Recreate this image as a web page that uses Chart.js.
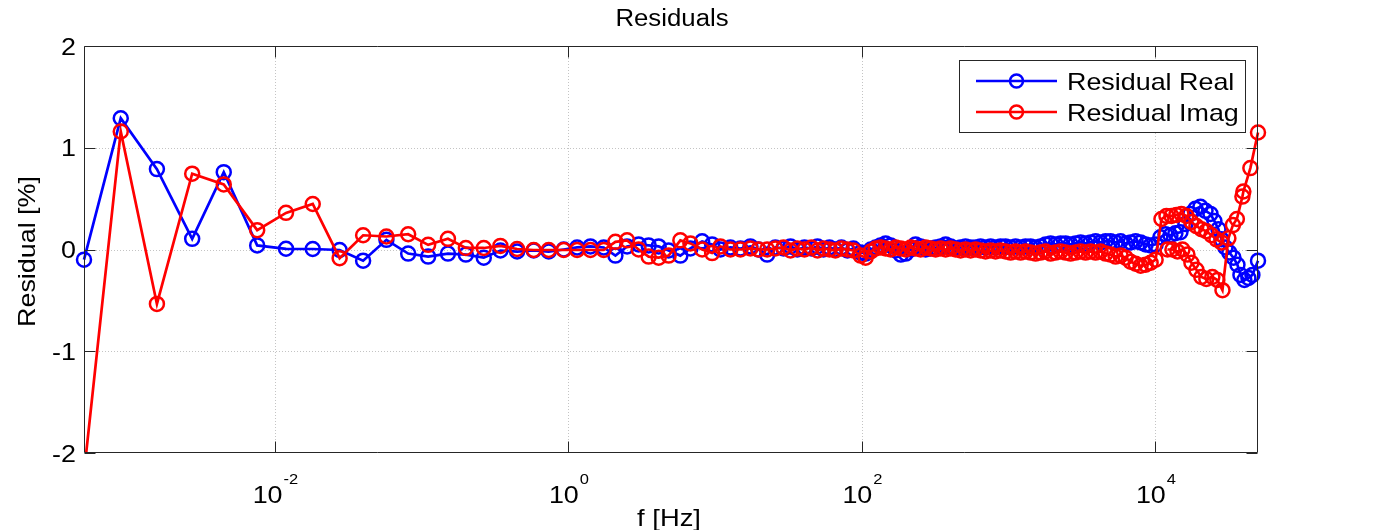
<!DOCTYPE html>
<html>
<head>
<meta charset="utf-8">
<script src="https://cdn.jsdelivr.net/npm/chart.js@4/dist/chart.umd.min.js"></script>
<style>
  html, body { margin: 0; padding: 0; background: #ffffff; }
  #wrap { width: 1388px; height: 530px; }
</style>
</head>
<body>
<div id="wrap"><canvas id="c" width="1388" height="530"></canvas></div>
<script>
// Measurement frequencies [Hz] shared by both residual traces
const freqMain = [
  0.0005, 0.00089, 0.00157, 0.00273, 0.00448, 0.00757, 0.0119, 0.0181, 0.0276, 0.0399,
  0.0575, 0.0809, 0.1107, 0.151,
  0.2, 0.265, 0.344, 0.447, 0.58, 0.734, 0.929, 1.146, 1.413, 1.74,
  2.09, 2.51, 3.01, 3.52, 4.12, 4.82, 5.79, 6.78, 8.15, 9.53,
  10.86, 12.7, 14.86, 17.38, 19.7, 22.6, 25.7, 29.2, 32.6, 36.3,
  40.6, 45.3, 49.8, 54.7, 60.1, 65.9, 72.5, 79.6, 87.5,
  98, 106, 115, 124, 134, 145, 157, 170, 184, 199,
  215, 232, 251, 272, 294, 318, 344, 372, 402, 435,
  470, 508, 550, 595, 643, 696, 753, 814, 880, 952,
  1030, 1114, 1205, 1303, 1410, 1525, 1649, 1784, 1930, 2087,
  2258, 2442, 2641, 2857, 3090, 3343, 3616, 3911, 4230, 4576,
  4950, 5354, 5791, 6264, 6776, 7329, 7928, 8575, 9276, 10033
];

// Residual of the real part [%]
const realMain = [
  -0.10, 1.29, 0.79, 0.105, 0.76, 0.04, 0.007, 0.005, -0.005, -0.11,
  0.095, -0.04, -0.07, -0.04,
  -0.05, -0.08, -0.01, -0.02, -0.01, -0.02, 0.0, 0.02, 0.03, 0.02,
  -0.06, 0.03, 0.05, 0.04, 0.03, -0.01, -0.06, 0.01, 0.08, 0.05,
  0.0, 0.02, 0.01, 0.03, 0.0, -0.05, 0.02, 0.01, 0.03, 0.0,
  0.02, 0.01, 0.03, 0.0, 0.02, 0.0, 0.02, -0.01, 0.01,
  -0.03, -0.04, 0.0, 0.02, 0.04, 0.06, 0.04, -0.01, -0.05, -0.04,
  0.0, 0.05, 0.03, 0.0, 0.01, 0.02, 0.03, 0.05, 0.03, 0.01,
  0.02, 0.03, 0.02, 0.02, 0.03, 0.02, 0.03, 0.02, 0.03, 0.03,
  0.02, 0.03, 0.02, 0.03, 0.03, 0.02, 0.03, 0.05, 0.06, 0.05,
  0.06, 0.06, 0.05, 0.06, 0.07, 0.06, 0.07, 0.08, 0.07, 0.08,
  0.08, 0.07, 0.08, 0.06, 0.07, 0.08, 0.07, 0.05, 0.04, 0.05
];

// Residual of the imaginary part [%]
const imagMain = [
  -2.2, 1.16, -0.535, 0.745, 0.64, 0.19, 0.36, 0.447, -0.085, 0.14,
  0.128, 0.15, 0.046, 0.105,
  0.015, 0.015, 0.035, 0.005, -0.005, -0.005, -0.005, -0.005, -0.005, -0.005,
  0.075, 0.09, 0.0, -0.07, -0.08, -0.06, 0.09, 0.06, 0.0, -0.035,
  0.03, 0.0, 0.0, 0.01, 0.0, 0.0, 0.01, 0.02, -0.01, 0.01,
  0.0, 0.02, -0.01, 0.01, 0.0, -0.01, 0.01, 0.0, -0.01,
  -0.06, -0.08, -0.02, 0.01, 0.02, 0.01, 0.0, 0.02, 0.01, 0.0,
  0.02, 0.01, 0.0, 0.02, 0.01, 0.0, 0.01, 0.0, 0.01, 0.0,
  -0.01, 0.0, -0.01, 0.0, -0.01, -0.02, -0.01, -0.02, -0.01, -0.02,
  -0.03, -0.02, -0.03, -0.02, -0.03, -0.04, -0.03, -0.02, -0.04, -0.03,
  -0.02, -0.03, -0.04, -0.03, -0.02, -0.03, -0.02, -0.03, -0.02, -0.04,
  -0.05, -0.07, -0.06, -0.08, -0.12, -0.14, -0.16, -0.15, -0.13, -0.10
];

// High-frequency sweep (second instrument range)
const freqRealTail = [
  10810, 11700, 12650, 13680, 14800, 16010, 17310, 18740, 20270, 21940,
  23720, 25230, 26880, 28180, 30000, 31900, 34020, 36220, 37960, 40360,
  43030, 45780, 50000
];
const realTail = [
  0.12, 0.15, 0.14, 0.16, 0.17, 0.25, 0.35, 0.40, 0.42, 0.38,
  0.35, 0.28, 0.20, 0.10, 0.02, -0.03, -0.08, -0.15, -0.25, -0.30,
  -0.28, -0.25, -0.11
];
const freqImagTail = [
  10990, 11890, 12850, 13900, 15030, 16260, 17590, 19020, 20560, 22230,
  24100, 26060, 28180, 28180,
  12080, 13060, 14130, 15280, 16520, 17590, 19020, 20560, 22230, 24430,
  26420, 28630, 31420, 33730, 35890, 39150, 39740, 44360, 50000
];
const imagTail = [
  0.30, 0.33, 0.33, 0.34, 0.35, 0.33, 0.27, 0.23, 0.20, 0.18,
  0.14, 0.10, 0.07, null,
  0.0, 0.0, -0.02, 0.0, -0.05, -0.13, -0.20, -0.27, -0.29, -0.27,
  -0.30, -0.40, 0.11, 0.24, 0.30, 0.52, 0.57, 0.80, 1.15
];

// Axis ticks
const xTickVals = [1e-2, 1e0, 1e2, 1e4];
const xTickExp = ['-2', '0', '2', '4'];
const yTickVals = [-2, -1, 0, 1, 2];
const yTickLabels = ['-2', '-1', '0', '1', '2'];

const seriesNames = ['Residual Real', 'Residual Imag'];
const BLUE = '#0000ff';
const RED = '#ff0000';
const FONT = '"Liberation Sans", Arial, Helvetica, sans-serif';

const toPoints = (fs, vs) => fs.map((f, i) => ({ x: f, y: vs[i] }));
const realPoints = toPoints(freqMain, realMain).concat(toPoints(freqRealTail, realTail));
const imagPoints = toPoints(freqMain, imagMain).concat(toPoints(freqImagTail, imagTail));

function drawText(ctx, s, x, y, size, align, sx) {
  ctx.save();
  ctx.font = size + 'px ' + FONT;
  ctx.fillStyle = '#000000';
  ctx.textBaseline = 'alphabetic';
  ctx.translate(x, y);
  ctx.scale(sx, 1);
  ctx.textAlign = align;
  ctx.fillText(s, 0, 0);
  ctx.restore();
}
function textWidth(ctx, s, size, sx) {
  ctx.save();
  ctx.font = size + 'px ' + FONT;
  const w = ctx.measureText(s).width * sx;
  ctx.restore();
  return w;
}

const axesFrame = {
  id: 'axesFrame',
  beforeDatasetsDraw(chart) {
    const { ctx, chartArea: a, scales } = chart;
    ctx.save();
    ctx.strokeStyle = '#c4c4c4';
    ctx.lineWidth = 1;
    ctx.setLineDash([1, 2]);
    xTickVals.forEach(v => {
      const px = Math.round(scales.x.getPixelForValue(v)) + 0.5;
      ctx.beginPath(); ctx.moveTo(px, a.top); ctx.lineTo(px, a.bottom); ctx.stroke();
    });
    yTickVals.slice(1, -1).forEach(v => {
      const py = Math.round(scales.y.getPixelForValue(v)) + 0.5;
      ctx.beginPath(); ctx.moveTo(a.left, py); ctx.lineTo(a.right, py); ctx.stroke();
    });
    ctx.restore();
  },
  afterDraw(chart) {
    const { ctx, chartArea: a, scales } = chart;
    const L = a.left + 0.5, R = a.right - 0.5, T = a.top + 0.5, B = a.bottom - 0.5;
    const tick = 11;
    ctx.save();
    ctx.strokeStyle = '#262626';
    ctx.lineWidth = 1;
    ctx.beginPath();
    ctx.rect(L, T, R - L, B - T);
    xTickVals.forEach(v => {
      const px = Math.round(scales.x.getPixelForValue(v)) + 0.5;
      ctx.moveTo(px, B); ctx.lineTo(px, B - tick);
      ctx.moveTo(px, T); ctx.lineTo(px, T + tick);
    });
    yTickVals.forEach(v => {
      const py = Math.round(scales.y.getPixelForValue(v)) + 0.5;
      ctx.moveTo(L, py); ctx.lineTo(L + tick, py);
      ctx.moveTo(R, py); ctx.lineTo(R - tick, py);
    });
    ctx.stroke();
    ctx.restore();

    // y tick labels
    yTickVals.forEach((v, i) => {
      const py = scales.y.getPixelForValue(v);
      drawText(ctx, yTickLabels[i], a.left - 8, py + 8.5, 24, 'right', 1.12);
    });
    // x tick labels: 10 with superscript exponent
    xTickVals.forEach((v, i) => {
      const px = scales.x.getPixelForValue(v);
      const wb = textWidth(ctx, '10', 24, 1.12);
      const we = textWidth(ctx, xTickExp[i], 15, 1.1);
      const x0 = px - (wb + we) / 2;
      drawText(ctx, '10', x0, 503, 24, 'left', 1.12);
      drawText(ctx, xTickExp[i], x0 + wb + 1, 484, 15, 'left', 1.1);
    });
    // title and axis labels
    drawText(ctx, 'Residuals', (a.left + a.right) / 2 + 1, 26, 23, 'center', 1.12);
    drawText(ctx, 'f [Hz]', (a.left + a.right) / 2 - 2, 526, 24, 'center', 1.14);
    ctx.save();
    ctx.translate(35, (a.top + a.bottom) / 2 + 2);
    ctx.rotate(-Math.PI / 2);
    drawText(ctx, 'Residual [%]', 0, 0, 24, 'center', 1.12);
    ctx.restore();

    // legend
    const lx = 959.5, ly = 60.5, lw = 286, lh = 72;
    ctx.save();
    ctx.fillStyle = '#ffffff';
    ctx.fillRect(lx, ly, lw, lh);
    ctx.strokeStyle = '#262626';
    ctx.lineWidth = 1;
    ctx.strokeRect(lx, ly, lw, lh);
    [[BLUE, 81], [RED, 112]].forEach(([col, ry], k) => {
      ctx.strokeStyle = col;
      ctx.lineWidth = 2.7;
      ctx.beginPath(); ctx.moveTo(976, ry); ctx.lineTo(1057, ry); ctx.stroke();
      ctx.lineWidth = 2.5;
      ctx.beginPath(); ctx.arc(1016.5, ry, 6.5, 0, Math.PI * 2); ctx.stroke();
      drawText(ctx, seriesNames[k], 1067, ry + 8.5, 24, 'left', 1.12);
    });
    ctx.restore();
  }
};

const common = {
  backgroundColor: 'rgba(0,0,0,0)',
  borderWidth: 2.7,
  pointRadius: 7,
  pointBorderWidth: 2.5,
  pointBackgroundColor: 'rgba(0,0,0,0)',
  pointHoverRadius: 7,
  tension: 0,
  spanGaps: false,
  clip: { left: 10, right: 10, top: 10, bottom: 0 }
};

new Chart(document.getElementById('c'), {
  type: 'line',
  data: {
    datasets: [
      Object.assign({ label: seriesNames[0], data: realPoints, borderColor: BLUE, pointBorderColor: BLUE, order: 1 }, common),
      Object.assign({ label: seriesNames[1], data: imagPoints, borderColor: RED, pointBorderColor: RED, order: 0 }, common)
    ]
  },
  options: {
    responsive: false,
    animation: false,
    devicePixelRatio: 1,
    parsing: true,
    layout: { padding: { top: 46, right: 130, left: 0, bottom: 0 } },
    plugins: { legend: { display: false }, title: { display: false }, tooltip: { enabled: false } },
    events: [],
    scales: {
      x: {
        type: 'logarithmic',
        min: 0.0005,
        max: 50000,
        afterBuildTicks: s => { s.ticks = xTickVals.map(v => ({ value: v })); },
        afterFit: s => { s.height = 77; },
        ticks: { display: false },
        grid: { display: false },
        border: { display: false }
      },
      y: {
        type: 'linear',
        min: -2,
        max: 2,
        afterBuildTicks: s => { s.ticks = yTickVals.map(v => ({ value: v })); },
        afterFit: s => { s.width = 84; },
        ticks: { display: false },
        grid: { display: false },
        border: { display: false }
      }
    }
  },
  plugins: [axesFrame]
});
</script>
</body>
</html>
